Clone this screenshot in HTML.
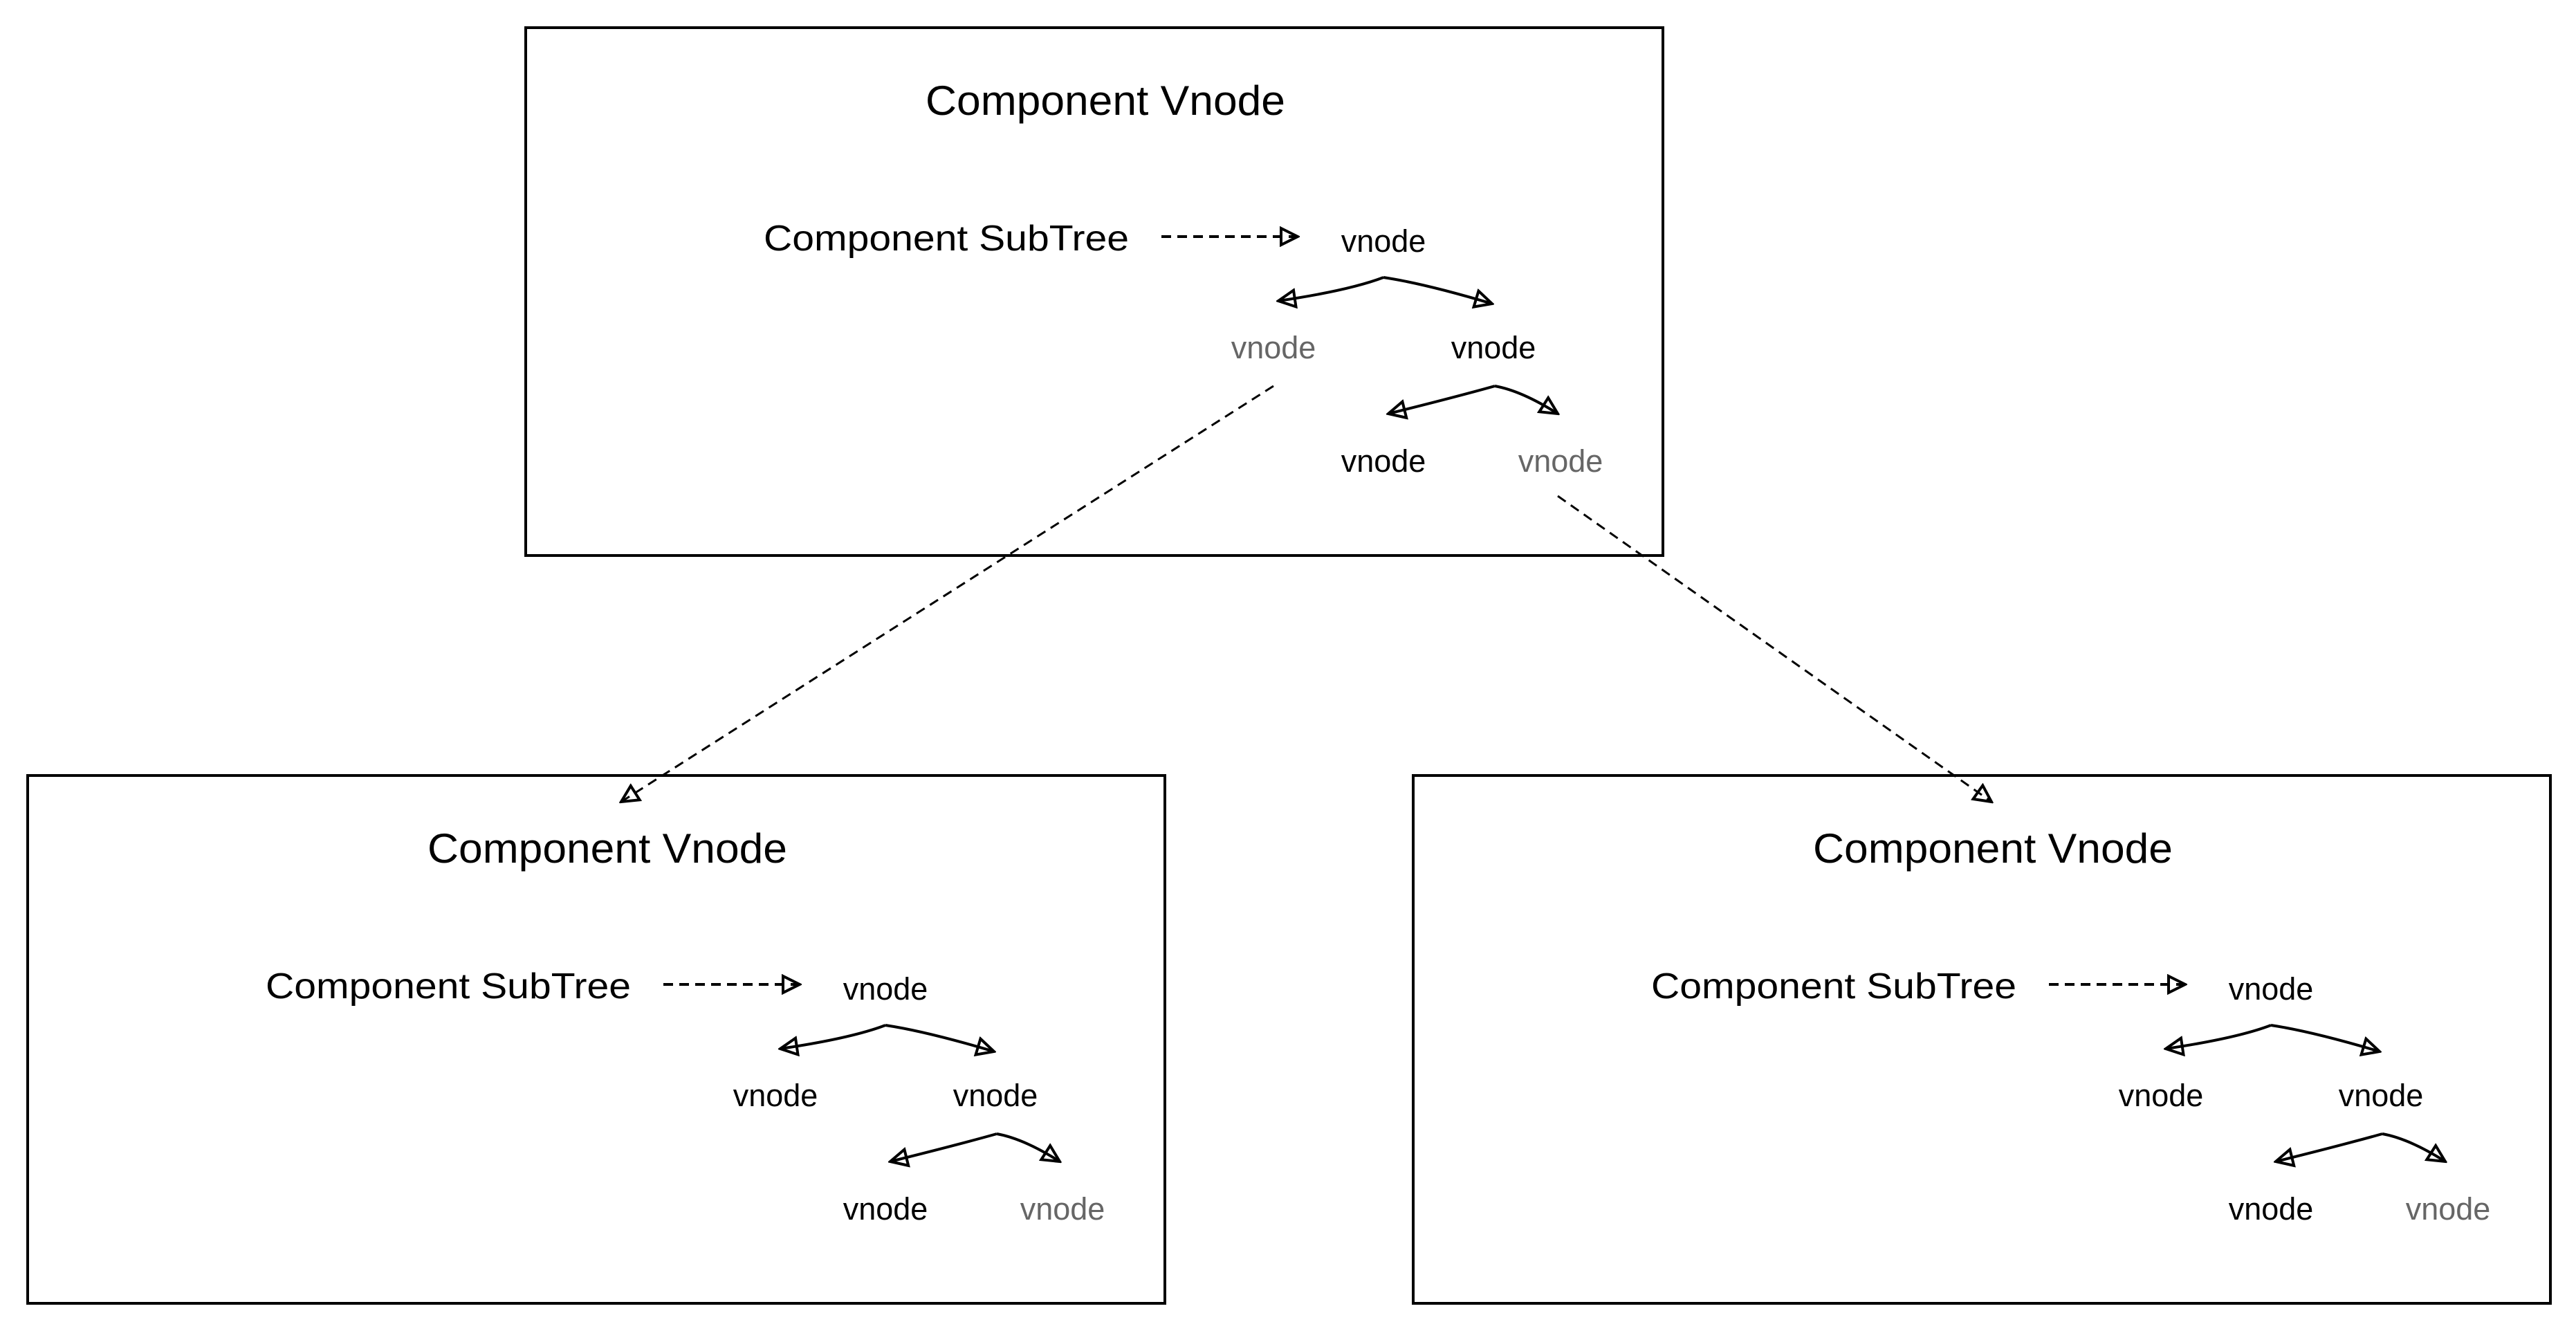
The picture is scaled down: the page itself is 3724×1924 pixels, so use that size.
<!DOCTYPE html>
<html><head><meta charset="utf-8"><style>
html,body{margin:0;padding:0;background:#fff;}
svg{display:block;}
text{font-family:"Liberation Sans",sans-serif;}
</style></head><body>
<svg width="3724" height="1924" viewBox="0 0 3724 1924" xmlns="http://www.w3.org/2000/svg">
<defs>
<marker id="ah" viewBox="0 0 20 20" refX="18" refY="10" markerWidth="20" markerHeight="20" markerUnits="userSpaceOnUse" orient="auto">
<path d="M2,2 L18,10 L2,18 Z" fill="none" stroke="#000" stroke-width="2.5"/>
</marker>
<marker id="ah2" viewBox="0 0 30 30" refX="27" refY="15" markerWidth="30" markerHeight="30" markerUnits="userSpaceOnUse" orient="auto">
<path d="M3,3 L27,15 L3,27 Z" fill="none" stroke="#000" stroke-width="4"/>
</marker>
<g id="grp">
<rect x="760" y="40" width="1644" height="763" fill="none" stroke="#000" stroke-width="4"/>
<text x="1598" y="166" font-size="60" text-anchor="middle" textLength="520" lengthAdjust="spacingAndGlyphs">Component Vnode</text>
<text x="1104" y="362" font-size="52" textLength="528" lengthAdjust="spacingAndGlyphs">Component SubTree</text>
<line x1="1679" y1="342" x2="1876" y2="342" stroke="#000" stroke-width="4" stroke-dasharray="14,9" marker-end="url(#ah2)"/>
<path d="M2000,401 Q1950,420 1848,435" fill="none" stroke="#000" stroke-width="4" marker-end="url(#ah2)"/>
<path d="M2000,401 Q2060,410 2157,439" fill="none" stroke="#000" stroke-width="4" marker-end="url(#ah2)"/>
<text x="2159" y="518" font-size="45" text-anchor="middle">vnode</text>
<path d="M2161,558 Q2100,575 2007,598" fill="none" stroke="#000" stroke-width="4" marker-end="url(#ah2)"/>
<path d="M2161,558 Q2200,565 2252,598" fill="none" stroke="#000" stroke-width="4" marker-end="url(#ah2)"/>
<text x="2000" y="682" font-size="45" text-anchor="middle">vnode</text>
<text x="2256" y="682" font-size="45" text-anchor="middle" fill="#666">vnode</text>
<text x="2000" y="364" font-size="45" text-anchor="middle">vnode</text>
</g>
</defs>
<use href="#grp"/>
<text x="1841" y="518" font-size="45" text-anchor="middle" fill="#666">vnode</text>
<use href="#grp" transform="translate(-720,1081)"/>
<text x="1121" y="1599" font-size="45" text-anchor="middle">vnode</text>
<use href="#grp" transform="translate(1283,1081)"/>
<text x="3124" y="1599" font-size="45" text-anchor="middle">vnode</text>
<line x1="1841" y1="558" x2="898" y2="1159" stroke="#000" stroke-width="3" stroke-dasharray="14,9" marker-end="url(#ah2)"/>
<line x1="2252" y1="717" x2="2879" y2="1159" stroke="#000" stroke-width="3" stroke-dasharray="14,9" marker-end="url(#ah2)"/>
</svg>
</body></html>
